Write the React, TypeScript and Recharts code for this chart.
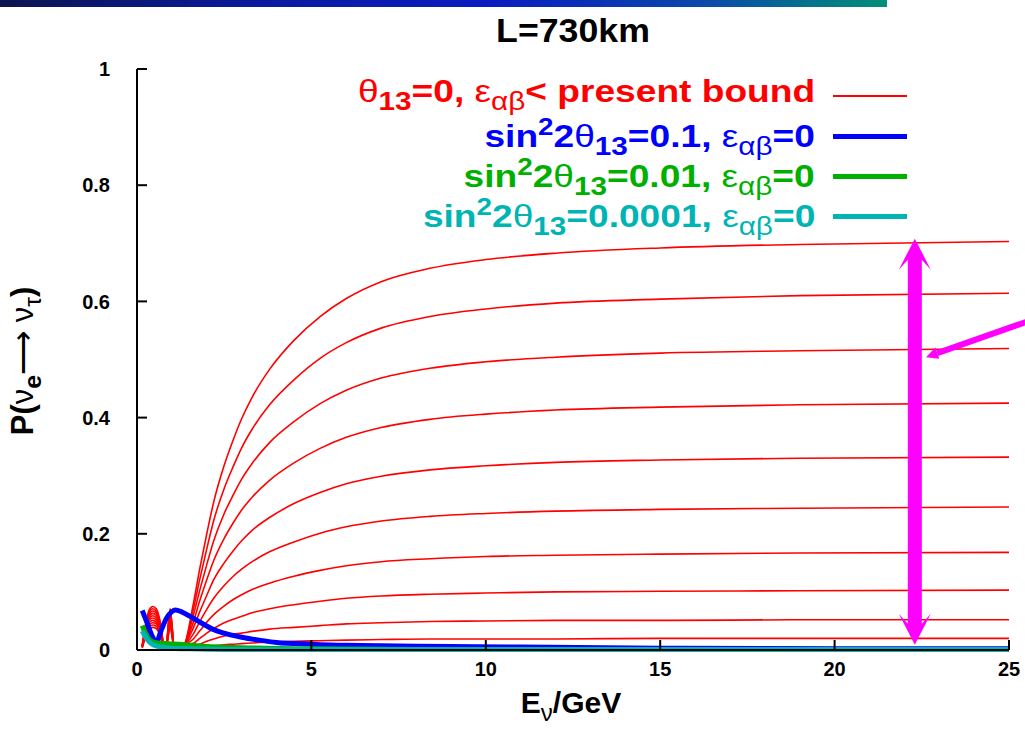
import React from "react";
import { LineChart, Line, XAxis, YAxis, ReferenceLine } from "recharts";

const FONT = "'Liberation Sans', Arial, Helvetica, sans-serif";

const xTicks = [0, 5, 10, 15, 20, 25];
const yTicks = [0, 0.2, 0.4, 0.6, 0.8, 1];

// theta13 = 0, NSI strengths scanned up to the present bound (one curve per value)
const redE = [
  0.15, 0.25, 0.35, 0.45, 0.55, 0.65, 0.75, 0.82, 0.95, 1.08, 1.2, 1.35, 1.6, 1.8, 2.0,
  2.2, 2.5, 2.76, 3.0, 3.3, 3.8, 4.5, 5.25, 6, 7, 8.4, 10, 12, 15, 19, 25,
];
const redCurves = [
  [0.008, 0.045, 0.069, 0.075, 0.071, 0.053, 0.015, 0, 0.071, 0, 0.002, 0.008, 0.075, 0.14, 0.2, 0.255, 0.318, 0.362, 0.398, 0.435, 0.483, 0.533, 0.574, 0.605, 0.634, 0.657, 0.672, 0.683, 0.692, 0.698, 0.703],
  [0.007, 0.043, 0.065, 0.071, 0.067, 0.05, 0.014, 0, 0.067, 0, 0.002, 0.008, 0.066, 0.122, 0.174, 0.223, 0.278, 0.316, 0.348, 0.38, 0.422, 0.465, 0.502, 0.529, 0.554, 0.574, 0.587, 0.597, 0.604, 0.61, 0.614],
  [0.007, 0.04, 0.062, 0.067, 0.064, 0.047, 0.013, 0, 0.064, 0, 0.002, 0.008, 0.056, 0.103, 0.147, 0.188, 0.235, 0.267, 0.294, 0.321, 0.357, 0.393, 0.424, 0.447, 0.468, 0.485, 0.496, 0.504, 0.511, 0.515, 0.519],
  [0.006, 0.038, 0.058, 0.063, 0.06, 0.044, 0.013, 0, 0.06, 0, 0.002, 0.008, 0.045, 0.085, 0.121, 0.154, 0.192, 0.219, 0.241, 0.263, 0.292, 0.322, 0.347, 0.366, 0.383, 0.397, 0.406, 0.413, 0.418, 0.422, 0.425],
  [0.006, 0.035, 0.054, 0.059, 0.056, 0.041, 0.012, 0, 0.056, 0, 0.002, 0.008, 0.036, 0.066, 0.094, 0.121, 0.15, 0.171, 0.188, 0.206, 0.228, 0.252, 0.271, 0.286, 0.299, 0.31, 0.317, 0.323, 0.327, 0.33, 0.332],
  [0.006, 0.033, 0.051, 0.055, 0.052, 0.039, 0.011, 0, 0.052, 0, 0.002, 0.008, 0.026, 0.049, 0.07, 0.089, 0.111, 0.127, 0.139, 0.152, 0.169, 0.186, 0.201, 0.212, 0.222, 0.23, 0.235, 0.239, 0.242, 0.244, 0.246],
  [0.005, 0.031, 0.047, 0.051, 0.048, 0.036, 0.01, 0, 0.048, 0, 0.002, 0.008, 0.018, 0.033, 0.048, 0.061, 0.076, 0.087, 0.095, 0.104, 0.115, 0.127, 0.137, 0.145, 0.152, 0.157, 0.161, 0.163, 0.165, 0.167, 0.168],
  [0.005, 0.028, 0.043, 0.047, 0.045, 0.033, 0.009, 0, 0.045, 0, 0.002, 0.008, 0.011, 0.02, 0.029, 0.037, 0.047, 0.053, 0.058, 0.064, 0.071, 0.078, 0.084, 0.089, 0.093, 0.096, 0.098, 0.1, 0.101, 0.102, 0.103],
  [0.004, 0.026, 0.04, 0.043, 0.041, 0.03, 0.009, 0, 0.041, 0, 0.002, 0.008, 0.008, 0.01, 0.015, 0.019, 0.024, 0.027, 0.029, 0.032, 0.036, 0.039, 0.042, 0.045, 0.047, 0.049, 0.05, 0.051, 0.051, 0.052, 0.052],
  [0.004, 0.023, 0.036, 0.039, 0.037, 0.027, 0.008, 0, 0.037, 0, 0.002, 0.006, 0.006, 0.006, 0.006, 0.007, 0.009, 0.01, 0.011, 0.012, 0.014, 0.015, 0.016, 0.017, 0.018, 0.019, 0.019, 0.019, 0.02, 0.02, 0.02],
];

// sin^2 2theta13 = 0.1
const blueE = [0.15, 0.3, 0.45, 0.55, 0.7, 0.85, 1.0, 1.1, 1.3, 1.6, 1.86, 2.2, 2.5, 3, 3.5, 4, 5, 6, 7.5, 9, 11, 15, 20, 25];
const blueP = [0.068, 0.045, 0.022, 0.013, 0.035, 0.055, 0.066, 0.069, 0.065, 0.055, 0.046, 0.035, 0.029, 0.022, 0.017, 0.013, 0.01, 0.008, 0.007, 0.006, 0.005, 0.003, 0.002, 0.002];

// sin^2 2theta13 = 0.01
const greenE = [0.15, 0.25, 0.35, 0.5, 0.8, 1.2, 1.6, 2, 3, 5, 8, 25];
const greenP = [0.042, 0.028, 0.018, 0.013, 0.011, 0.01, 0.008, 0.006, 0.004, 0.002, 0.001, 0.001];

// sin^2 2theta13 = 0.0001
const cyanE = [0.15, 0.25, 0.35, 0.5, 0.7, 1.0, 1.5, 2.5, 25];
const cyanP = [0.033, 0.022, 0.014, 0.008, 0.005, 0.003, 0.002, 0.001, 0.001];

// annotation: range of red curves at the right
const arrowE = 22.3;
const arrowP = [0.009, 0.708];
const pointerE = [22.62, 25.6];
const pointerP = [0.504, 0.567];

const toPoints = (xs: number[], ys: number[]) => xs.map((e, i) => ({ e, p: ys[i] }));
const redData = redCurves.map((vals) => toPoints(redE, vals));
const blueData = toPoints(blueE, blueP);
const greenData = toPoints(greenE, greenP);
const cyanData = toPoints(cyanE, cyanP);

const MAGENTA = "#ff00ff";

const DoubleArrow = (props: any) => {
  const { x1, y1, y2 } = props;
  const cx = x1;
  const top = Math.min(y1, y2);
  const bot = Math.max(y1, y2);
  const hw = 16;
  const hh = 31;
  const sw = 7;
  const notch = 21;
  const pts = [
    [cx, top],
    [cx + hw, top + hh],
    [cx + sw, top + notch],
    [cx + sw, bot - notch],
    [cx + hw, bot - hh],
    [cx, bot],
    [cx - hw, bot - hh],
    [cx - sw, bot - notch],
    [cx - sw, top + notch],
    [cx - hw, top + hh],
  ];
  return <polygon points={pts.map((p) => p.join(",")).join(" ")} fill={MAGENTA} />;
};

const Pointer = (props: any) => {
  const { x1, y1, x2, y2 } = props;
  const len = Math.hypot(x2 - x1, y2 - y1);
  const ux = (x2 - x1) / len;
  const uy = (y2 - y1) / len;
  const hl = 12;
  const hw = 6;
  const bx = x1 + ux * hl;
  const by = y1 + uy * hl;
  return (
    <g>
      <line x1={bx} y1={by} x2={x2} y2={y2} stroke={MAGENTA} strokeWidth={6} />
      <polygon
        points={`${x1},${y1} ${bx - uy * hw},${by + ux * hw} ${bx + uy * hw},${by - ux * hw}`}
        fill={MAGENTA}
      />
    </g>
  );
};

const greek: React.CSSProperties = { fontWeight: "normal" };
const sub: React.CSSProperties = { fontSize: "0.8em", verticalAlign: "-0.3em" };
const sup: React.CSSProperties = { fontSize: "0.75em", verticalAlign: "0.5em" };

const Eps = () => (
  <>
    <span style={greek}>ε</span>
    <span style={{ ...sub, ...greek }}>αβ</span>
  </>
);

const Sin2 = () => (
  <>
    sin<span style={sup}>2</span>2<span style={greek}>θ</span>
    <span style={sub}>13</span>
  </>
);

const legendRows = [
  {
    color: "#ff0000",
    width: 1.5,
    label: (
      <>
        <span style={greek}>θ</span>
        <span style={sub}>13</span>=0, <Eps />
        {"< present bound"}
      </>
    ),
  },
  {
    color: "#0000ff",
    width: 5,
    label: (
      <>
        <Sin2 />
        =0.1, <Eps />=0
      </>
    ),
  },
  {
    color: "#00b000",
    width: 5,
    label: (
      <>
        <Sin2 />
        =0.01, <Eps />=0
      </>
    ),
  },
  {
    color: "#00b4b4",
    width: 5,
    label: (
      <>
        <Sin2 />
        =0.0001, <Eps />=0
      </>
    ),
  },
];

const tickStyle = { fill: "#000", fontSize: 20, fontWeight: "bold", fontFamily: FONT };

export default function App() {
  return (
    <div
      style={{
        position: "absolute",
        left: 0,
        top: 0,
        width: 1025,
        height: 731,
        background: "#fff",
        fontFamily: FONT,
        overflow: "hidden",
      }}
    >
      <div
        style={{
          position: "absolute",
          left: 0,
          top: 0,
          width: 887,
          height: 7,
          background:
            "linear-gradient(to right, #0c1550 0%, #0a1aa0 30%, #0a1cc0 55%, #0a4aa8 80%, #009078 100%)",
        }}
      />
      <div
        style={{
          position: "absolute",
          left: 573,
          top: 30,
          transform: "translate(-50%, -50%) scaleX(1.05)",
          fontSize: 34,
          fontWeight: "bold",
          lineHeight: "38px",
          whiteSpace: "nowrap",
        }}
      >
        L=730km
      </div>

      <LineChart
        width={1025}
        height={731}
        margin={{ top: 69, right: 16, bottom: 0, left: 0 }}
      >
        <XAxis
          dataKey="e"
          type="number"
          domain={[0, 25]}
          ticks={xTicks}
          allowDataOverflow
          height={81}
          tickSize={-10}
          tickMargin={22}
          axisLine={{ stroke: "#000", strokeWidth: 2 }}
          tickLine={{ stroke: "#000", strokeWidth: 2 }}
          tick={tickStyle}
        />
        <XAxis
          xAxisId="top"
          orientation="top"
          type="number"
          domain={[0, 25]}
          ticks={xTicks}
          height={0}
          tickSize={-10}
          tick={false}
          axisLine={{ stroke: "#000", strokeWidth: 2 }}
          tickLine={{ stroke: "#000", strokeWidth: 2 }}
        />
        <YAxis
          type="number"
          domain={[0, 1]}
          ticks={yTicks}
          width={137}
          tickSize={-10}
          tickMargin={37}
          tickFormatter={(v: number) => String(v)}
          axisLine={{ stroke: "#000", strokeWidth: 2 }}
          tickLine={{ stroke: "#000", strokeWidth: 2 }}
          tick={tickStyle}
        />
        <YAxis
          yAxisId="right"
          orientation="right"
          type="number"
          domain={[0, 1]}
          ticks={yTicks}
          width={0}
          tickSize={-10}
          tick={false}
          axisLine={{ stroke: "#000", strokeWidth: 2 }}
          tickLine={{ stroke: "#000", strokeWidth: 2 }}
        />

        {redData.map((d, i) => (
          <Line
            key={`red-${i}`}
            data={d}
            dataKey="p"
            type="monotone"
            stroke="#ff0000"
            strokeWidth={1.6}
            dot={false}
            activeDot={false}
            isAnimationActive={false}
          />
        ))}
        <Line data={blueData} dataKey="p" type="monotone" stroke="#0000ff" strokeWidth={5} dot={false} activeDot={false} isAnimationActive={false} />
        <Line data={greenData} dataKey="p" type="monotone" stroke="#00b000" strokeWidth={5} dot={false} activeDot={false} isAnimationActive={false} />
        <Line data={cyanData} dataKey="p" type="monotone" stroke="#00b4b4" strokeWidth={5} dot={false} activeDot={false} isAnimationActive={false} />

        <ReferenceLine
          segment={[
            { x: arrowE, y: arrowP[0] },
            { x: arrowE, y: arrowP[1] },
          ]}
          ifOverflow="visible"
          shape={DoubleArrow}
        />
        <ReferenceLine
          segment={[
            { x: pointerE[0], y: pointerP[0] },
            { x: pointerE[1], y: pointerP[1] },
          ]}
          ifOverflow="visible"
          shape={Pointer}
        />
      </LineChart>

      <div
        style={{
          position: "absolute",
          right: 118,
          top: 76,
          fontSize: 32,
          fontWeight: "bold",
          whiteSpace: "nowrap",
        }}
      >
        {legendRows.map((row, i) => (
          <div
            key={i}
            style={{ display: "flex", alignItems: "center", justifyContent: "flex-end", height: 40, color: row.color }}
          >
            <span
              style={{
                lineHeight: "40px",
                display: "inline-block",
                transform: "scaleX(1.16)",
                transformOrigin: "right center",
              }}
            >
              {row.label}
            </span>
            <span
              style={{
                display: "inline-block",
                width: 74,
                height: row.width,
                background: row.color,
                marginLeft: 18,
              }}
            />
          </div>
        ))}
      </div>

      <div
        style={{
          position: "absolute",
          left: 28,
          top: 361,
          transform: "translate(-50%, -50%) rotate(-90deg)",
          fontSize: 31,
          fontWeight: "bold",
          whiteSpace: "nowrap",
          lineHeight: "34px",
        }}
      >
        P(<span style={greek}>ν</span>
        <span style={sub}>e</span>
        <span style={{ fontWeight: "normal" }}>⟶</span> <span style={greek}>ν</span>
        <span style={{ ...sub, ...greek }}>τ</span>)
      </div>

      <div
        style={{
          position: "absolute",
          left: 571,
          top: 708,
          transform: "translate(-50%, -50%)",
          fontSize: 30,
          fontWeight: "bold",
          whiteSpace: "nowrap",
          lineHeight: "34px",
        }}
      >
        E<span style={{ ...sub, ...greek }}>ν</span>/GeV
      </div>
    </div>
  );
}
